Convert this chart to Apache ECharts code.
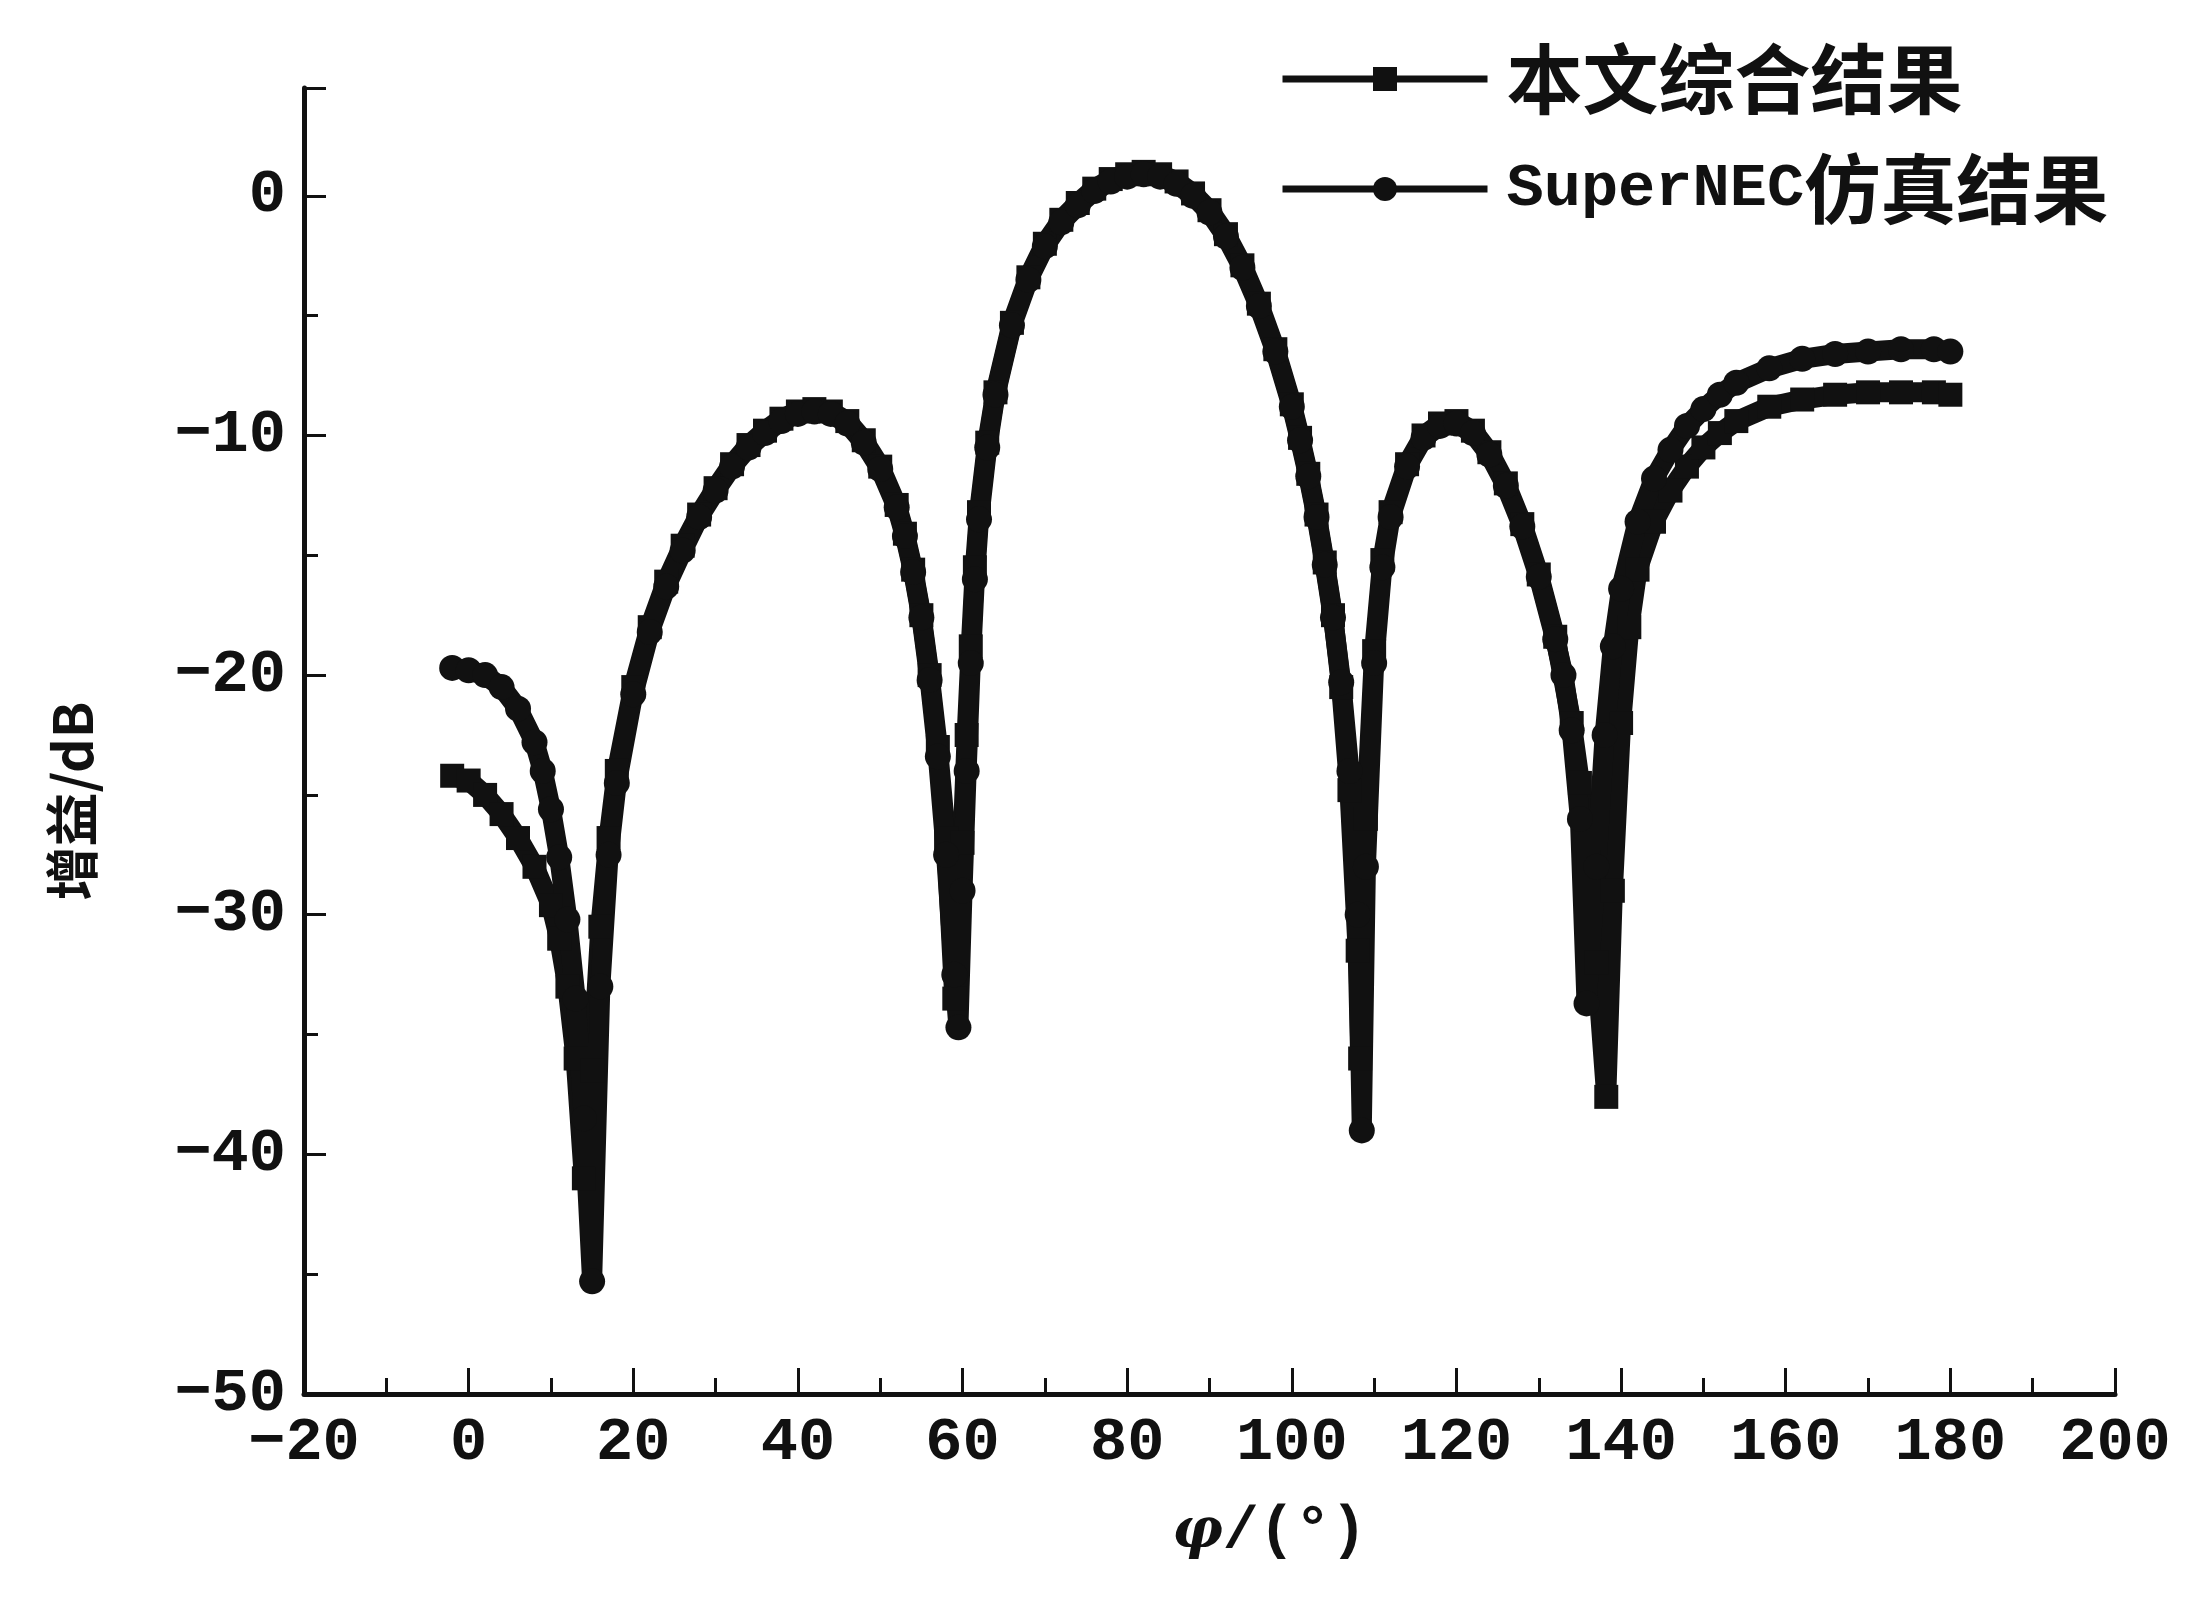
<!DOCTYPE html>
<html lang="zh">
<head>
  <meta charset="UTF-8">
  <title>增益方向图</title>
  <script src="https://cdn.jsdelivr.net/npm/echarts@6/dist/echarts.min.js"></script>
  <style>
    html, body, #main {
      margin: 0;
      padding: 0;
      width: 100%;
      height: 100%;
      background: #fff;
    }
  </style>
</head>
<body>
  <div id="main"></div>

  <script>
    // 本文综合结果 (square markers)
    const phiA = [-2, 0, 2, 4, 6, 8, 10, 11, 12, 13, 14, 15, 16, 17, 18, 20, 22, 24, 26, 28, 30, 32, 34, 36, 38, 40,
      42, 44, 46, 48, 50, 52, 53, 54, 55, 56, 57, 58, 59, 60, 60.5, 61, 61.5, 62, 63, 64, 66, 68, 70, 72, 74, 76, 78, 80,
      82, 84, 86, 88, 90, 92, 94, 96, 98, 100, 101, 102, 103, 104, 105, 106, 107, 108, 108.3, 109, 110, 111, 112, 114,
      116, 118, 120, 122, 124, 126, 128, 130, 132, 134, 135, 136, 137, 138.2, 139, 140, 141, 142, 144, 146, 148, 150,
      152, 154, 158, 162, 166, 170, 174, 178, 180];
    const gainA = [-24.2, -24.4, -25.0, -25.8, -26.8, -28.0, -29.6, -31.0, -33.0, -36.0, -41.0, -36.5, -30.5, -26.8, -24.0,
      -20.5, -18.0, -16.1, -14.6, -13.3, -12.2, -11.2, -10.4, -9.8, -9.3, -9.0,
      -8.9, -9.0, -9.4, -10.2, -11.3, -12.9, -14.1, -15.6, -17.5, -20.0, -23.0, -26.8, -33.5, -27.0, -22.5, -18.8, -15.5,
      -13.2, -10.3, -8.2, -5.3, -3.4, -2.0, -1.0, -0.3, 0.3, 0.7, 0.9,
      1.0, 0.9, 0.6, 0.1, -0.6, -1.6, -2.9, -4.5, -6.4, -8.7, -10.1, -11.6, -13.3, -15.3, -17.5, -20.5, -24.8, -31.5,
      -36.0, -26.0, -19.0, -15.2, -13.2, -11.2,
      -10.0, -9.5, -9.4, -9.8, -10.7, -12.0, -13.7, -15.8, -18.4, -22.0, -24.5, -27.8, -32.0, -37.6, -29.0, -22.0, -18.0,
      -15.6, -13.6, -12.3, -11.3, -10.5,
      -9.9, -9.4, -8.8, -8.5, -8.3, -8.2, -8.2, -8.2, -8.3];

    // SuperNEC仿真结果 (circle markers)
    const phiB = [-2, 0, 2, 4, 6, 8, 9, 10, 11, 12, 13, 14, 15, 16, 17, 18, 20, 22, 24, 26, 28, 30, 32, 34, 36, 38, 40,
      42, 44, 46, 48, 50, 52, 53, 54, 55, 56, 57, 58, 59, 59.5, 60, 60.5, 61, 61.5, 62, 63, 64, 66, 68, 70, 72, 74, 76,
      78, 80, 82, 84, 86, 88, 90, 92, 94, 96, 98, 100, 101, 102, 103, 104, 105, 106, 107, 108, 108.5, 109, 110, 111, 112,
      114, 116, 118, 120, 122, 124, 126, 128, 130, 132, 133, 134, 135, 135.8, 137, 138, 139, 140, 142, 144, 146, 148,
      150, 152, 154, 158, 162, 166, 170, 174, 178, 180];
    const gainB = [-19.7, -19.8, -20.0, -20.5, -21.4, -22.8, -24.0, -25.6, -27.6, -30.2, -33.5, -38.5, -45.3, -33.0, -27.5,
      -24.5, -20.8, -18.2, -16.3, -14.8, -13.4, -12.3, -11.3, -10.5, -9.9, -9.4, -9.1,
      -9.0, -9.1, -9.5, -10.3, -11.4, -13.0, -14.2, -15.7, -17.6, -20.2, -23.4, -27.5, -32.5, -34.7, -29.0, -24.0, -19.5,
      -16.0, -13.5, -10.5, -8.3, -5.4, -3.5, -2.1, -1.1, -0.4, 0.2,
      0.6, 0.8, 0.9, 0.8, 0.5, 0.0, -0.7, -1.7, -3.0, -4.6, -6.5, -8.8, -10.2, -11.7, -13.4, -15.4, -17.6, -20.3, -24.0,
      -30.0, -39.0, -28.0, -19.5, -15.5, -13.4,
      -11.3, -10.1, -9.6, -9.5, -9.9, -10.8, -12.1, -13.8, -15.9, -18.5, -20.0, -22.3, -26.0, -33.7, -28.0, -22.5, -18.8,
      -16.4, -13.6, -11.8, -10.6, -9.6,
      -8.9, -8.3, -7.8, -7.2, -6.8, -6.6, -6.5, -6.4, -6.4, -6.5];

    const nameA = '本文综合结果';
    const nameB = 'SuperNEC仿真结果';

    const latinFont = 'Liberation Mono';
    const cnFont = 'Noto Sans CJK SC';

    const toPairs = (xs, ys) => xs.map((x, i) => [x, ys[i]]);
    const minus = v => String(v).replace('-', '−');

    const chart = echarts.init(document.getElementById('main'));
    const option = {
      backgroundColor: '#fff',
      animation: false,
      grid: {
        left: 304,
        right: 76,
        top: 88,
        bottom: 208,
        containLabel: false
      },
      legend: {
        orient: 'vertical',
        left: 1274,
        top: 36,
        itemWidth: 205,
        itemHeight: 30,
        itemGap: 34,
        selectedMode: false,
        data: [nameA, nameB],
        lineStyle: { width: 7 },
        formatter: name => name === nameB ? '{en|SuperNEC}{cn|仿真结果}' : '{cn|' + name + '}',
        textStyle: {
          padding: [0, 0, 0, 14],
          rich: {
            en: { fontFamily: latinFont, fontWeight: 'bold', fontSize: 62, color: '#111' },
            cn: { fontFamily: cnFont, fontWeight: 'bold', fontSize: 76, color: '#111' }
          }
        }
      },
      xAxis: {
        type: 'value',
        min: -20,
        max: 200,
        interval: 20,
        name: '{i|φ}/(°)',
        nameLocation: 'middle',
        nameGap: 108,
        nameTextStyle: {
          padding: [0, 0, 0, 120],
          fontFamily: latinFont,
          fontWeight: 'bold',
          fontSize: 60,
          color: '#111',
          rich: {
            i: { fontFamily: 'DejaVu Serif', fontStyle: 'italic', fontWeight: 'bold', fontSize: 56, color: '#111' }
          }
        },
        splitLine: { show: false },
        axisLine: { onZero: false, lineStyle: { color: '#111', width: 5 } },
        axisTick: { inside: true, length: 26, lineStyle: { color: '#111', width: 3 } },
        minorTick: { show: true, splitNumber: 2, length: 16, lineStyle: { color: '#111', width: 3 } },
        axisLabel: {
          margin: 18,
          fontFamily: latinFont,
          fontWeight: 'bold',
          fontSize: 62,
          color: '#111',
          formatter: v => minus(v)
        }
      },
      yAxis: {
        type: 'value',
        min: -50,
        max: 4.5,
        interval: 10,
        name: '增益/dB',
        nameLocation: 'middle',
        nameRotate: 90,
        nameGap: 205,
        nameTextStyle: {
          padding: [0, 120, 0, 0],
          fontFamily: cnFont,
          fontWeight: 'bold',
          fontSize: 54,
          color: '#111'
        },
        splitLine: { show: false },
        axisLine: { onZero: false, lineStyle: { color: '#111', width: 5 } },
        axisTick: { inside: true, length: 22, lineStyle: { color: '#111', width: 3 } },
        minorTick: { show: true, splitNumber: 2, length: 14, lineStyle: { color: '#111', width: 3 } },
        axisLabel: {
          margin: 18,
          fontFamily: latinFont,
          fontWeight: 'bold',
          fontSize: 62,
          color: '#111',
          formatter: v => (v % 10 === 0 ? minus(v) : '')
        }
      },
      series: [
        {
          name: nameA,
          type: 'line',
          data: toPairs(phiA, gainA),
          symbol: 'rect',
          symbolSize: 24,
          lineStyle: { color: '#111', width: 20 },
          itemStyle: { color: '#111' }
        },
        {
          name: nameB,
          type: 'line',
          data: toPairs(phiB, gainB),
          symbol: 'circle',
          symbolSize: 26,
          lineStyle: { color: '#111', width: 20 },
          itemStyle: { color: '#111' }
        }
      ]
    };

    chart.setOption(option);
  </script>
</body>
</html>
